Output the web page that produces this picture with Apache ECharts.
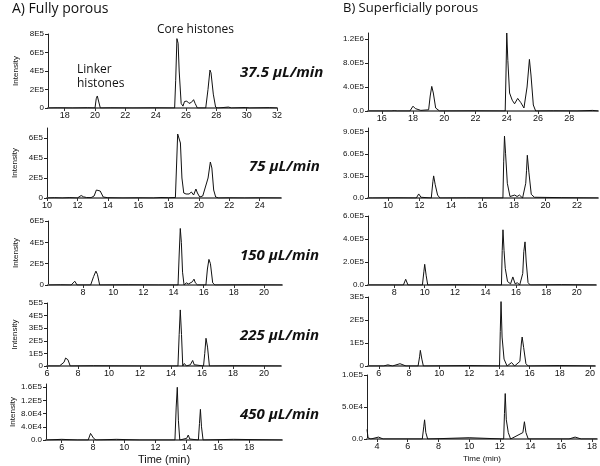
<!DOCTYPE html>
<html>
<head>
<meta charset="utf-8">
<script src="https://cdn.jsdelivr.net/npm/echarts@6/dist/echarts.min.js"></script>
<style>
html, body { margin: 0; padding: 0; background: #fff; }
#chart { width: 600px; height: 466px; }
</style>
</head>
<body>
<div id="chart"></div>
<script>
// A) fully porous traces, [time (min), intensity]
var fp37 = [[16.9,0],[17.5,2e3],[18.5,0],[19.5,3e3],[20.0,0],[20.08,1e5],[20.15,1.3e5],[20.22,1.1e5],[20.35,0],[21,2e3],[22.5,0],[24,2e3],[25.25,0],[25.32,3e5],[25.4,7.5e5],[25.48,7.0e5],[25.55,4e5],[25.68,5e4],[25.8,2e4],[25.9,7e4],[26.05,7.5e4],[26.2,5e4],[26.35,6e4],[26.5,9e4],[26.6,5e4],[26.75,0],[27.3,0],[27.45,2e5],[27.58,4.1e5],[27.65,3.8e5],[27.8,1.5e5],[27.95,1e4],[28.1,0],[28.8,1e4],[29.0,0],[29.9,5e3],[30.2,0],[31.5,4e3],[32,0]];
var fp75 = [[10,0],[10.5,3e3],[11,0],[11.5,4e3],[12.0,0],[12.25,2.5e4],[12.4,1.2e4],[12.6,5e3],[12.9,4e3],[13.1,2e4],[13.25,8e4],[13.35,1e5],[13.5,7e4],[13.7,1e4],[14,3e3],[15,0],[16,2e3],[17,0],[17.5,5e3],[18.0,3e3],[18.45,5e3],[18.52,3e5],[18.6,6.4e5],[18.7,6.2e5],[18.78,5.5e5],[18.88,2e5],[19.0,5e4],[19.15,4e4],[19.25,6e4],[19.35,4e4],[19.5,6e4],[19.65,3e4],[19.8,9e4],[19.9,5e4],[20.05,1e4],[20.25,2e4],[20.6,2e5],[20.75,3.6e5],[20.85,3e5],[20.97,8e4],[21.1,1e4],[21.3,0],[22,2e3],[23,0],[24,2e3],[25.4,0]];
var fp150 = [[5.7,0],[6.5,2e3],[7.2,0],[7.45,3.5e4],[7.6,0],[8.5,0],[8.7,8e4],[8.85,1.3e5],[8.95,1e5],[9.1,0],[11,2e3],[13,0],[14.3,0],[14.38,3e5],[14.45,5.3e5],[14.52,4e5],[14.6,1.2e5],[14.7,0],[14.85,2e4],[15.0,1e4],[15.25,3e4],[15.36,5.5e4],[15.45,2e4],[15.6,0],[16.15,0],[16.25,1.5e5],[16.35,2.4e5],[16.45,2e5],[16.6,2e4],[16.75,0],[19,2e3],[21.2,0]];
var fp225 = [[6,0],[6.8,0],[7.1,3e4],[7.2,6.3e4],[7.35,5e4],[7.5,0],[9,2e3],[12,0],[14.45,0],[14.53,2.5e5],[14.6,4.45e5],[14.68,2.5e5],[14.76,0],[14.86,2e4],[15.0,0],[15.25,1e4],[15.4,4.4e4],[15.5,1e4],[15.6,0],[16.1,0],[16.18,1e5],[16.26,2.2e5],[16.36,1.5e5],[16.48,0],[18,2e3],[21.1,0]];
var fp450 = [[5,0],[6,2e3],[7,0],[7.7,0],[7.85,2e4],[7.92,2.5e4],[8.05,5e3],[8.2,0],[9.5,2e3],[11,0],[13.25,0],[13.33,1e5],[13.4,1.6e5],[13.47,6e4],[13.56,0],[14.0,5e3],[14.1,1.5e4],[14.2,3e3],[14.3,0],[14.75,0],[14.82,5e4],[14.88,9.3e4],[14.95,4e4],[15.05,0],[17,2e3],[20.1,0]];

// B) superficially porous traces
var sp37 = [[15.12,0],[16.6,0],[16.8,5e3],[17.0,0],[17.8,0],[18.0,8e4],[18.15,4e4],[18.5,1e4],[19.0,2e4],[19.1,2.5e5],[19.2,4.1e5],[19.3,3e5],[19.45,5e4],[19.7,0],[22,3e3],[23.9,0],[23.95,6e5],[24.0,1.3e6],[24.07,8.4e5],[24.18,3e5],[24.35,1.8e5],[24.5,1.2e5],[24.7,2.1e5],[24.9,1.4e5],[25.1,5e4],[25.3,4e5],[25.45,8.6e5],[25.55,6e5],[25.7,1e5],[25.85,0],[27,3e3],[28.5,0],[29.5,1e4],[29.84,0]];
var sp75 = [[8.73,0],[8.85,1e4],[9.0,0],[10.5,3e3],[11.8,0],[11.95,5.5e4],[12.1,1e4],[12.75,0],[12.85,2.2e5],[12.9,3.0e5],[13.0,1.8e5],[13.15,4e4],[13.3,0],[15,2e3],[17.3,0],[17.35,5e5],[17.4,8.4e5],[17.47,6e5],[17.58,2e5],[17.75,2e4],[18.05,4e4],[18.2,2e4],[18.35,4e4],[18.55,0],[18.75,2e5],[18.8,3.7e5],[18.85,5.8e5],[18.95,3.5e5],[19.1,5e4],[19.3,1e4],[21,5e3],[23.34,0]];
var sp150 = [[6.27,0],[8.6,0],[8.75,5e4],[8.9,0],[9.85,0],[9.95,1.2e5],[10.0,1.8e5],[10.1,8e4],[10.2,0],[12,2e3],[15.05,0],[15.1,3e5],[15.15,4.8e5],[15.22,3e5],[15.3,1.45e5],[15.45,3e4],[15.65,1e4],[15.8,7e4],[15.95,1e4],[16.1,2e4],[16.25,0],[16.45,1e5],[16.52,2.9e5],[16.6,3.75e5],[16.68,2e5],[16.8,2e4],[16.95,0],[19,3e3],[21.27,0]];
var sp225 = [[5.28,0],[6.3,0],[6.6,5e3],[6.9,0],[7.4,1e4],[7.8,0],[8.6,0],[8.7,4e4],[8.75,6.8e4],[8.85,3e4],[8.95,0],[12,2e3],[14.0,0],[14.05,1.5e5],[14.1,2.8e5],[14.17,1.26e5],[14.3,3e4],[14.5,0],[14.8,1.5e4],[15.0,0],[15.35,2e4],[15.45,1e5],[15.5,1.26e5],[15.6,8e4],[15.75,1e4],[15.9,0],[18,2e3],[20.33,0]];
var sp450 = [[3.35,1.5e4],[3.42,2e3],[3.6,0],[4.1,3e3],[4.4,0],[6.95,0],[7.05,2e4],[7.1,3e4],[7.18,1e4],[7.3,0],[10,2e3],[12.25,0],[12.3,4e4],[12.35,7.1e4],[12.42,3e4],[12.55,1e4],[12.7,0],[13.5,1e4],[13.6,2.7e4],[13.7,1e4],[13.85,0],[16.5,0],[16.9,3e3],[17.3,0],[18.32,0]];

// tick values and labels
var xtA1 = [18, 20, 22, 24, 26, 28, 30, 32];
var xtA2 = [10, 12, 14, 16, 18, 20, 22, 24];
var xtA3 = [8, 10, 12, 14, 16, 18, 20];
var xtA4 = [6, 8, 10, 12, 14, 16, 18, 20];
var xtA5 = [6, 8, 10, 12, 14, 16, 18];
var xtB1 = [16, 18, 20, 22, 24, 26, 28];
var xtB2 = [10, 12, 14, 16, 18, 20, 22];
var xtB3 = [8, 10, 12, 14, 16, 18, 20];
var xtB4 = [6, 8, 10, 12, 14, 16, 18, 20];
var xtB5 = [4, 6, 8, 10, 12, 14, 16, 18];

var ytA1 = [0, 2e5, 4e5, 6e5, 8e5];
var ylA1 = ['0', '2E5', '4E5', '6E5', '8E5'];
var ytA2 = [0, 2e5, 4e5, 6e5];
var ylA2 = ['0', '2E5', '4E5', '6E5'];
var ytA3 = [0, 2e5, 4e5, 6e5];
var ylA3 = ['0', '2E5', '4E5', '6E5'];
var ytA4 = [0, 1e5, 2e5, 3e5, 4e5, 5e5];
var ylA4 = ['0', '1E5', '2E5', '3E5', '4E5', '5E5'];
var ytA5 = [0, 4e4, 8e4, 1.2e5, 1.6e5];
var ylA5 = ['0.0', '4.0E4', '8.0E4', '1.2E5', '1.6E5'];
var ytB1 = [0, 4e5, 8e5, 1.2e6];
var ylB1 = ['0.0', '4.0E5', '8.0E5', '1.2E6'];
var ytB2 = [0, 3e5, 6e5, 9e5];
var ylB2 = ['0.0', '3.0E5', '6.0E5', '9.0E5'];
var ytB3 = [0, 2e5, 4e5, 6e5];
var ylB3 = ['0.0', '2.0E5', '4.0E5', '6.0E5'];
var ytB4 = [0, 1e5, 2e5, 3e5];
var ylB4 = ['0', '1E5', '2E5', '3E5'];
var ytB5 = [0, 5e4, 1e5];
var ylB5 = ['0.0', '5.0E4', '1.0E5'];

var flowRates = ['37.5 µL/min', '75 µL/min', '150 µL/min', '225 µL/min', '450 µL/min'];

// panel layout (pixels) and axis ranges
var panels = [
    {data: fp37, xt: xtA1, yt: ytA1, yl: ylA1, left: 48, top: 34, width: 229, height: 74, xmin: 16.9, xmax: 32, ymax: 8e5, yname: 'Intensity'},
    {data: fp75, xt: xtA2, yt: ytA2, yl: ylA2, left: 47, top: 128, width: 234, height: 70, xmin: 10, xmax: 25.4, ymax: 7e5, yname: 'Intensity'},
    {data: fp150, xt: xtA3, yt: ytA3, yl: ylA3, left: 48, top: 221, width: 234, height: 64, xmin: 5.67, xmax: 21.2, ymax: 6e5, yname: 'Intensity'},
    {data: fp225, xt: xtA4, yt: ytA4, yl: ylA4, left: 47, top: 303, width: 234, height: 63, xmin: 6, xmax: 21.1, ymax: 5e5, yname: 'Intensity'},
    {data: fp450, xt: xtA5, yt: ytA5, yl: ylA5, left: 46, top: 384, width: 236, height: 56, xmin: 5, xmax: 20.1, ymax: 1.7e5, yname: 'Intensity', xname: 'Time (min)', xnameSize: 11, xnameGap: 14},
    {data: sp37, xt: xtB1, yt: ytB1, yl: ylB1, left: 368, top: 33, width: 230, height: 78, xmin: 15.12, xmax: 29.84, ymax: 1.3e6},
    {data: sp75, xt: xtB2, yt: ytB2, yl: ylB2, left: 368, top: 128, width: 230, height: 70, xmin: 8.73, xmax: 23.34, ymax: 9.5e5},
    {data: sp150, xt: xtB3, yt: ytB3, yl: ylB3, left: 368, top: 216, width: 228, height: 69, xmin: 6.27, xmax: 21.27, ymax: 6e5},
    {data: sp225, xt: xtB4, yt: ytB4, yl: ylB4, left: 368, top: 297, width: 227, height: 69, xmin: 5.28, xmax: 20.33, ymax: 3e5},
    {data: sp450, xt: xtB5, yt: ytB5, yl: ylB5, left: 367, top: 375, width: 232, height: 64, xmin: 3.35, xmax: 18.32, ymax: 1e5, xname: 'Time (min)', xnameSize: 8, xnameGap: 16}
];

var labelFont = "'Liberation Sans Narrow', 'Liberation Sans', Arial, sans-serif";
var textFont = "'Open Sans', 'Liberation Sans', sans-serif";

var grids = [], xAxes = [], yAxes = [], seriesList = [];
panels.forEach(function (p, i) {
    grids.push({left: p.left, top: p.top, width: p.width, height: p.height});
    xAxes.push({
        type: 'value', gridIndex: i, min: p.xmin, max: p.xmax,
        name: p.xname || '', nameLocation: 'middle', nameGap: p.xnameGap || 0,
        nameTextStyle: {fontSize: p.xnameSize || 10, color: '#111', fontFamily: 'Liberation Sans, Arial, sans-serif'},
        axisLine: {show: true, onZero: false, lineStyle: {color: '#777', width: 2}},
        axisTick: {show: true, customValues: p.xt, length: 3, lineStyle: {color: '#333'}},
        axisLabel: {customValues: p.xt, fontSize: 9, margin: 3, color: '#111', fontFamily: labelFont},
        splitLine: {show: false}
    });
    yAxes.push({
        type: 'value', gridIndex: i, min: 0, max: p.ymax,
        name: p.yname || '', nameLocation: 'middle', nameGap: 28, nameRotate: 90,
        nameTextStyle: {fontSize: 8, color: '#111', fontFamily: labelFont},
        axisLine: {show: true, lineStyle: {color: '#222', width: 1}},
        axisTick: {show: true, customValues: p.yt, length: 3, lineStyle: {color: '#222'}},
        axisLabel: {
            customValues: p.yt, fontSize: 8, margin: 4, color: '#111', fontFamily: labelFont,
            formatter: function (v) {
                var k = p.yt.indexOf(v);
                return k >= 0 ? p.yl[k] : '';
            }
        },
        splitLine: {show: false}
    });
    seriesList.push({
        type: 'line', xAxisIndex: i, yAxisIndex: i, data: p.data,
        showSymbol: false, silent: true,
        lineStyle: {color: '#111', width: 1}
    });
});

// flow rate labels between the columns
var flowTops = [75, 169, 258, 338, 417];
var graphics = [
    {type: 'text', left: 12, top: 2, style: {text: 'A) Fully porous', font: '14px ' + textFont, fill: '#111'}},
    {type: 'text', left: 343, top: 2, style: {text: 'B) Superficially porous', font: '13px ' + textFont, fill: '#111'}},
    {type: 'text', left: 157, top: 24, style: {text: 'Core histones', font: '12px ' + textFont, fill: '#111'}},
    {type: 'text', left: 77, top: 63, style: {text: 'Linker\nhistones', font: '12px ' + textFont, lineHeight: 14, fill: '#111'}}
];
flowRates.forEach(function (t, i) {
    graphics.push({
        type: 'text', left: i === 1 ? 249 : 240, top: flowTops[i] - 10,
        style: {text: t, font: 'italic bold 15px ' + textFont, fill: '#111'}
    });
});

var myChart = echarts.init(document.getElementById('chart'));
myChart.setOption({
    animation: false,
    grid: grids,
    xAxis: xAxes,
    yAxis: yAxes,
    series: seriesList,
    graphic: graphics
});
</script>
</body>
</html>
